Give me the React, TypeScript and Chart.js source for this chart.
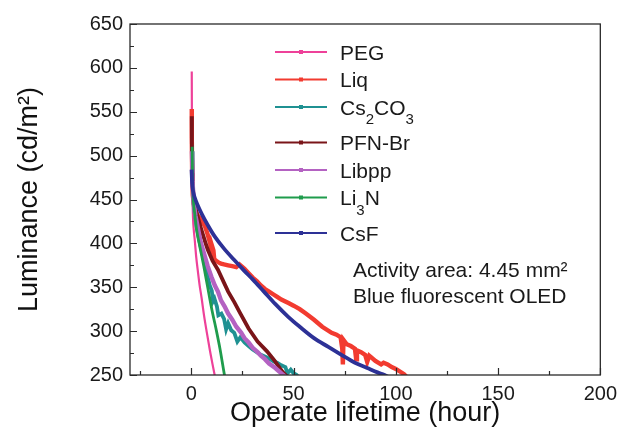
import React, { useEffect, useRef } from "react";
import { Chart, registerables } from "chart.js";

Chart.register(...registerables);

const FONT = '"Liberation Sans", Arial, Helvetica, sans-serif';

// ---- Series names and colours ----
const SERIES_NAMES = ["PEG", "Liq", "Cs₂CO₃", "PFN-Br", "Libpp", "Li₃N", "CsF"];
const SERIES_COLORS = ["#EE4199", "#F23B30", "#1F9192", "#7A1519", "#B462C2", "#1F9C4C", "#2D3196"];
const SERIES_WIDTHS = [2.2, 4.4, 3.8, 3.8, 4.4, 2.8, 3.8];
const SERIES_SMOOTH = [true, false, false, false, false, true, true];

// ---- Series values (time in hours, luminance in cd/m2) ----
const PEG_T = [0.2, 0.25, 0.3, 0.5, 0.8, 1.2, 1.7, 2.4, 3.2, 4.0, 5.0, 6.2, 7.6, 9.0, 10.3, 11.4, 12.2];
const PEG_L = [596, 560, 505, 460, 430, 415, 403, 384, 368, 353, 338, 318, 298, 279, 263, 250, 241];

const LIQ_T = [0.2, 0.22, 0.4, 0.7, 1.2, 2, 3, 4.5, 6.6, 8, 9.3, 9.6, 10, 10.8, 11.2, 12.3, 13.5, 14.5, 16, 18, 20, 22, 23.5, 24.5, 26, 28, 30, 32, 34, 36, 38, 40, 42, 44, 47.5, 50, 53, 56, 60, 64, 68.6, 71, 73, 73.8, 74.1, 74.4, 76, 78, 80, 80.6, 81, 83, 85, 86, 87, 88, 90, 92.8, 94, 96, 98, 100, 102, 104, 106];
const LIQ_L = [553, 520, 480, 455, 445, 438, 432, 428, 420, 410, 399, 388, 398, 392, 382, 380, 378, 377, 376, 375, 374, 373, 376, 374, 371, 366, 361, 357, 352, 348, 345, 342, 339, 336, 332, 329, 325, 320, 313, 305, 298, 296, 293, 280, 262, 290, 285, 283, 280, 268, 278, 276, 273, 265, 272, 270, 266, 262, 264, 262, 259, 257, 254, 251, 246];

const CS2CO3_T = [0.3, 0.35, 0.6, 1.2, 2.5, 4, 6, 8, 9, 10, 10.6, 11.3, 12.5, 13.2, 14.7, 16, 17, 18, 19.5, 21, 22.5, 24, 26, 28, 30, 32, 34, 37, 38.5, 40.5, 42, 44, 46, 47, 48.6, 50, 51.5, 52.5];
const CS2CO3_L = [512, 505, 472, 442, 420, 402, 382, 362, 352, 346, 334, 337, 328, 318, 320, 314, 302, 309, 301, 298, 288, 293, 287, 283, 279, 276, 273, 270, 268, 265, 264, 261, 259, 252, 256, 252, 250, 247];

const PFNBR_T = [0.2, 0.22, 0.3, 0.6, 1, 2, 3.5, 5, 7, 8, 10.4, 13, 16, 18, 21, 24, 28, 32.4, 37, 40.5, 44.5, 46.5, 47.5];
const PFNBR_L = [545, 525, 510, 475, 455, 440, 427, 415, 400, 393, 380, 370, 355, 345, 333, 320, 303, 288, 277, 267, 254, 249, 246];

const LIBPP_T = [0.3, 0.6, 1.2, 2, 3.4, 4.5, 6, 8, 9.8, 11.5, 13, 14.5, 16.3, 18, 20, 22, 24.4, 26, 28, 30, 32.4, 34, 36, 38, 40.5, 42, 43, 44.5, 45.5, 46.5];
const LIBPP_L = [505, 470, 446, 432, 415, 402, 390, 374, 362, 352, 345, 335, 328, 320, 313, 305, 298, 292, 287, 281, 276, 272, 268, 263, 259, 256, 254, 251, 249, 246];

const LI3N_T = [0.4, 0.5, 0.7, 1.0, 1.6, 2.6, 4, 6, 8, 10, 12.3, 14, 16.2, 16.8];
const LI3N_L = [510, 490, 465, 448, 435, 415, 398, 375, 350, 325, 300, 280, 250, 243];

const CSF_T = [0.1, 0.2, 0.4, 0.8, 1.7, 3, 5, 8, 11.4, 16, 21, 25.8, 30, 35.5, 41, 47.5, 53, 60, 67, 73.4, 80, 86, 91, 94.5, 97];
const CSF_L = [484, 478, 468, 460, 452, 444, 434, 421, 408, 394, 381, 369, 359, 345, 331, 316, 305, 292, 282, 273, 264, 258, 253, 250, 247];

const SERIES_T = [PEG_T, LIQ_T, CS2CO3_T, PFNBR_T, LIBPP_T, LI3N_T, CSF_T];
const SERIES_L = [PEG_L, LIQ_L, CS2CO3_L, PFNBR_L, LIBPP_L, LI3N_L, CSF_L];

// ---- Axes ----
const X_MIN = -30;
const X_MAX = 200;
const X_TICKS = [0, 50, 100, 150, 200];
const X_MINOR_STEP = 25;
const Y_MIN = 250;
const Y_MAX = 650;
const Y_TICKS = [250, 300, 350, 400, 450, 500, 550, 600, 650];
const Y_MINOR_STEP = 25;
const X_TITLE = "Operate lifetime (hour)";
const Y_TITLE = "Luminance (cd/m²)";

// ---- Annotation ----
const NOTE_LINES = ["Activity area: 4.45 mm²", "Blue fluorescent OLED"];
const NOTE_X = 79;
const NOTE_Y = [368.5, 338.5];

const SUBS: Record<string, string> = { "₀": "0", "₁": "1", "₂": "2", "₃": "3", "₄": "4", "₅": "5", "₆": "6", "₇": "7", "₈": "8", "₉": "9" };

function drawRich(ctx: CanvasRenderingContext2D, text: string, x: number, baseline: number, size: number) {
  let cx = x;
  let buf = "";
  const flush = () => {
    if (!buf) return;
    ctx.font = `${size}px ${FONT}`;
    ctx.fillText(buf, cx, baseline);
    cx += ctx.measureText(buf).width;
    buf = "";
  };
  for (const ch of text) {
    if (SUBS[ch]) {
      flush();
      ctx.font = `${Math.round(size * 0.7)}px ${FONT}`;
      ctx.fillText(SUBS[ch], cx, baseline + size * 0.45);
      cx += ctx.measureText(SUBS[ch]).width;
    } else {
      buf += ch;
    }
  }
  flush();
  return /[₀-₉]/.test(text);
}

const decorPlugin = {
  id: "decor",
  afterDatasetsDraw(chart: any) {
    const { ctx, chartArea: a, scales } = chart;
    const xs = scales.x;
    const ys = scales.y;
    ctx.save();
    // frame
    ctx.strokeStyle = "#2a2a2a";
    ctx.lineWidth = 1.3;
    ctx.strokeRect(a.left, a.top, a.right - a.left, a.bottom - a.top);
    // inward ticks
    ctx.beginPath();
    for (let v = Math.ceil(X_MIN / X_MINOR_STEP) * X_MINOR_STEP; v <= X_MAX; v += X_MINOR_STEP) {
      const px = Math.round(xs.getPixelForValue(v)) + 0.5;
      const major = X_TICKS.includes(v);
      ctx.moveTo(px, a.bottom);
      ctx.lineTo(px, a.bottom - (major ? 7 : 4));
    }
    for (let v = Y_MIN; v <= Y_MAX; v += Y_MINOR_STEP) {
      const py = Math.round(ys.getPixelForValue(v)) + 0.5;
      const major = Y_TICKS.includes(v);
      ctx.moveTo(a.left, py);
      ctx.lineTo(a.left + (major ? 7 : 4), py);
    }
    ctx.lineWidth = 1.2;
    ctx.stroke();

    // legend
    const lx0 = a.left + 145;
    const lx1 = a.left + 197;
    const tx = a.left + 210;
    let rowY = a.top + 28;
    const size = 21;
    ctx.textBaseline = "alphabetic";
    ctx.textAlign = "left";
    SERIES_NAMES.forEach((name, i) => {
      ctx.strokeStyle = SERIES_COLORS[i];
      ctx.lineWidth = 2;
      ctx.beginPath();
      ctx.moveTo(lx0, rowY);
      ctx.lineTo(lx1, rowY);
      ctx.stroke();
      ctx.fillStyle = SERIES_COLORS[i];
      const mx = (lx0 + lx1) / 2;
      ctx.fillRect(mx - 2, rowY - 2, 4, 4);
      ctx.fillStyle = "#1a1a1a";
      const hasSub = drawRich(ctx, name, tx, rowY + size * 0.36, size);
      rowY += 27.5 + (hasSub ? 8 : 0);
    });

    // annotation
    ctx.fillStyle = "#1a1a1a";
    ctx.font = `21px ${FONT}`;
    ctx.textBaseline = "middle";
    NOTE_LINES.forEach((line, i) => {
      ctx.fillText(line, xs.getPixelForValue(NOTE_X), ys.getPixelForValue(NOTE_Y[i]));
    });
    ctx.restore();
  },
};

export default function App() {
  const ref = useRef<HTMLCanvasElement>(null);
  useEffect(() => {
    document.body.style.margin = "0";
    const datasets = SERIES_NAMES.map((name, i) => ({
      label: name,
      data: SERIES_T[i].map((t, k) => ({ x: t, y: SERIES_L[i][k] })),
      borderColor: SERIES_COLORS[i],
      backgroundColor: SERIES_COLORS[i],
      borderWidth: SERIES_WIDTHS[i],
      pointRadius: 0,
      tension: 0,
      cubicInterpolationMode: SERIES_SMOOTH[i] ? ("monotone" as const) : ("default" as const),
      order: SERIES_NAMES.length - 1 - i,
      clip: 0,
      fill: false,
    }));
    const chart = new Chart(ref.current as HTMLCanvasElement, {
      type: "line",
      data: { datasets },
      options: {
        animation: false,
        responsive: false,
        maintainAspectRatio: false,
        layout: { padding: { top: 24, right: 19, left: 0, bottom: 0 } },
        plugins: { legend: { display: false }, tooltip: { enabled: false } },
        elements: { point: { radius: 0 } },
        scales: {
          x: {
            type: "linear",
            min: X_MIN,
            max: X_MAX,
            grid: { display: false, drawTicks: false },
            border: { display: false },
            afterBuildTicks: (s: any) => {
              s.ticks = X_TICKS.map((v) => ({ value: v }));
            },
            afterFit: (s: any) => {
              s.height = 54;
            },
            ticks: { font: { size: 20, family: FONT }, color: "#1a1a1a", padding: 7, maxRotation: 0, autoSkip: false },
            title: { display: true, text: X_TITLE, font: { size: 27, family: FONT }, color: "#111", padding: { top: 0, bottom: -1 } },
          },
          y: {
            type: "linear",
            min: Y_MIN,
            max: Y_MAX,
            grid: { display: false, drawTicks: false },
            border: { display: false },
            afterBuildTicks: (s: any) => {
              s.ticks = Y_TICKS.map((v) => ({ value: v }));
            },
            afterFit: (s: any) => {
              s.width = 130;
            },
            ticks: { font: { size: 20, family: FONT }, color: "#1a1a1a", padding: 7, autoSkip: false },
            title: { display: true, text: Y_TITLE, font: { size: 27, family: FONT }, color: "#111", padding: { top: 13, bottom: 0 } },
          },
        },
      },
      plugins: [decorPlugin],
    });
    return () => chart.destroy();
  }, []);
  return (
    <div style={{ width: 624, height: 429 }}>
      <canvas ref={ref} width={624} height={429} style={{ display: "block" }} />
    </div>
  );
}
